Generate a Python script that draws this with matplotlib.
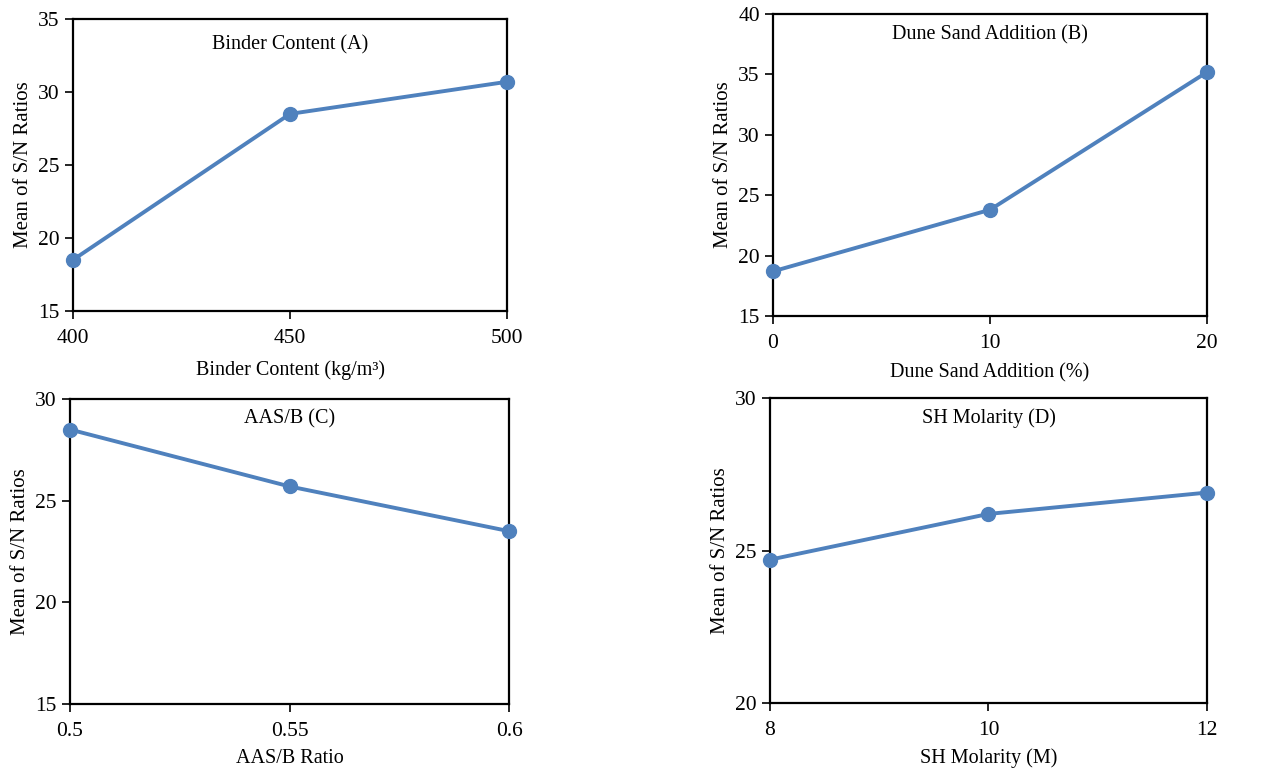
import matplotlib
matplotlib.use('Agg')
import matplotlib.pyplot as plt

plt.rcParams['font.family'] = ['Liberation Serif', 'DejaVu Serif']

# Data
binder_x = [400, 450, 500]
binder_sn = [18.5, 28.5, 30.7]

sand_x = [0, 10, 20]
sand_sn = [18.7, 23.8, 35.2]

aas_x = [0.5, 0.55, 0.6]
aas_labels = ['0.5', '0.55', '0.6']
aas_sn = [28.5, 25.7, 23.5]

sh_x = [8, 10, 12]
sh_sn = [24.7, 26.2, 26.9]

color = '#4F81BD'

fig = plt.figure(figsize=(12.62, 7.69), dpi=100)

panels = [
    # (rect, x, y, xticklabels, ylim, yticks, title, title_y, xlabel, xpad)
    ([0.0578, 0.5956, 0.344, 0.3797], binder_x, binder_sn, None,
     (15, 35), [15, 20, 25, 30, 35], 'Binder Content (A)', 0.91,
     'Binder Content (kg/m\u00b3)', 9),
    ([0.6125, 0.5890, 0.344, 0.3927], sand_x, sand_sn, None,
     (15, 40), [15, 20, 25, 30, 35, 40], 'Dune Sand Addition (B)', 0.93,
     'Dune Sand Addition (%)', 7),
    ([0.0555, 0.0845, 0.348, 0.3966], aas_x, aas_sn, aas_labels,
     (15, 30), [15, 20, 25, 30], 'AAS/B (C)', 0.935, 'AAS/B Ratio', 6),
    ([0.6101, 0.0858, 0.3463, 0.3966], sh_x, sh_sn, None,
     (20, 30), [20, 25, 30], 'SH Molarity (D)', 0.935, 'SH Molarity (M)', 6),
]

for rect, x, y, xlabels, ylim, yticks, title, ty, xlabel, xpad in panels:
    ax = fig.add_axes(rect)
    ax.plot(x, y, color=color, lw=2.8, marker='o', markersize=10,
            clip_on=False, zorder=3)
    ax.set_xlim(x[0], x[-1])
    ax.set_ylim(*ylim)
    ax.set_xticks(x)
    if xlabels is not None:
        ax.set_xticklabels(xlabels)
    ax.set_yticks(yticks)
    ax.tick_params(direction='out', length=6, width=1.2, labelsize=15.5,
                   colors='black')
    ax.tick_params(axis='x', pad=7)
    for s in ax.spines.values():
        s.set_linewidth(1.6)
        s.set_color('black')
    ax.text(0.5, ty, title, transform=ax.transAxes, ha='center',
            va='center', fontsize=14.5)
    ax.set_xlabel(xlabel, fontsize=14.5, labelpad=xpad)
    ax.set_ylabel('Mean of S/N Ratios', fontsize=15, labelpad=4)

fig.savefig('out.png', dpi=100)
